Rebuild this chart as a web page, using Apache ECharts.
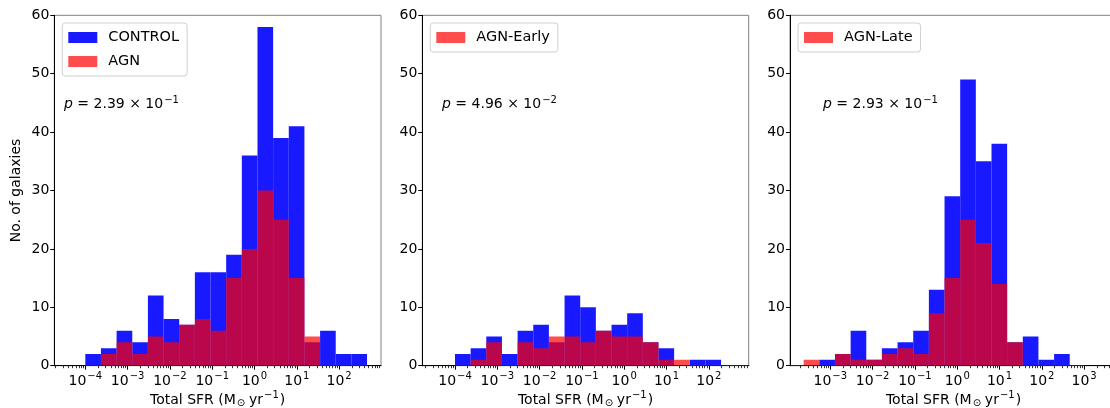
<!DOCTYPE html>
<html>
<head>
<meta charset="utf-8">
<script src="https://cdn.jsdelivr.net/npm/echarts@6/dist/echarts.min.js"></script>
<style>
  html, body { margin: 0; padding: 0; background: #fff; }
  #chart { width: 1110px; height: 408px; }
</style>
</head>
<body>
<div id="chart"></div>
<script>
// log10 of the shared histogram bin edges, Total SFR in Msun/yr
const binEdgesLog = [-4.00, -3.63, -3.26, -2.89, -2.52, -2.15, -1.78, -1.41, -1.04, -0.67,
                     -0.30, 0.07, 0.44, 0.81, 1.18, 1.55, 1.92, 2.29, 2.66, 3.03];

// galaxy counts per bin (null: bin not part of that histogram)
const controlAll   = [2, 3, 6, 4, 12, 8, 7, 16, 16, 19, 36, 58, 39, 41, 4, 6, 2, 2, null];
const agnAll       = [0, 2, 4, 2, 5, 4, 7, 8, 6, 15, 20, 30, 25, 15, 5, 0, 0, 0, null];
const controlEarly = [2, 3, 5, 2, 6, 7, 4, 12, 10, 6, 7, 9, 4, 3, 0, 1, 1, null, null];
const agnEarly     = [0, 1, 4, 0, 4, 3, 5, 5, 4, 6, 5, 5, 4, 1, 1, 0, 0, 0, 0];
const controlLate  = [null, 0, 1, 2, 6, 1, 3, 4, 6, 13, 29, 49, 35, 38, 4, 5, 1, 2, null];
const agnLate      = [0, 1, 0, 2, 1, 1, 2, 3, 2, 9, 15, 25, 21, 14, 4, 0, 0, 0, 0];

// series / legend names
const controlName = 'CONTROL';
const agnNames = ['AGN', 'AGN-Early', 'AGN-Late'];

// KS-test p-values: mantissa and power of ten
const pMantissa = ['2.39', '4.96', '2.93'];
const pExponent = [-1, -2, -1];

// labelled decades on each x axis
const xDecades = [
  [-4, -3, -2, -1, 0, 1, 2],
  [-4, -3, -2, -1, 0, 1, 2],
  [-3, -2, -1, 0, 1, 2, 3]
];
const yTicks = [0, 10, 20, 30, 40, 50, 60];

const xTitle = 'Total SFR';
const yTitle = 'No. of galaxies';

// ---------------------------------------------------------------------
const CONTROL_COLOR = 'rgba(0,0,255,0.9)';
const AGN_COLOR = 'rgba(255,0,0,0.7)';
const FONT = 'DejaVu Sans';
const TICK_FS = 14;
const SUP_FS = 10;

const grids = [
  { left: 54.3, top: 15.3, width: 326.7, height: 350.4 },
  { left: 422.3, top: 15.3, width: 326.4, height: 350.4 },
  { left: 790, top: 15.3, width: 327, height: 350.4 }
];
const xRangeLog = [[-4.733, 2.99], [-4.773, 2.943], [-3.953, 3.777]];

const panels = [
  { control: controlAll, agn: agnAll },
  { control: controlEarly, agn: agnEarly },
  { control: controlLate, agn: agnLate }
];

function minus(n) { return n < 0 ? '\u2212' + (-n) : String(n); }

function binItems(counts) {
  const out = [];
  counts.forEach((c, i) => {
    if (c === null) return;
    out.push([Math.pow(10, binEdgesLog[i]), Math.pow(10, binEdgesLog[i + 1]), c]);
  });
  return out;
}

function histRenderer(color) {
  return function (params, api) {
    const n = api.value(2);
    const top = api.coord([api.value(0), n]);
    const base = api.coord([api.value(1), 0]);
    if (n === 0) {
      return {
        type: 'line',
        shape: { x1: top[0], y1: base[1], x2: base[0], y2: base[1] },
        style: { stroke: color, lineWidth: 1 }
      };
    }
    return {
      type: 'rect',
      shape: { x: top[0], y: top[1], width: base[0] - top[0], height: base[1] - top[1] },
      style: { fill: color }
    };
  };
}

function minorTicks(lo, hi) {
  const vals = [];
  for (let d = Math.floor(lo) - 1; d <= Math.ceil(hi); d++) {
    for (let k = 2; k <= 9; k++) {
      const v = k * Math.pow(10, d);
      const lv = Math.log10(v);
      if (lv > lo && lv < hi) vals.push(v);
    }
  }
  return vals;
}

const supRich = {
  b: { fontFamily: FONT, fontSize: TICK_FS, color: '#000' },
  s: { fontFamily: FONT, fontSize: SUP_FS, color: '#000', padding: [0, 0, 10, 1] }
};

const option = {
  animation: false,
  backgroundColor: '#fff',
  grid: grids.map(g => Object.assign({
    show: true, borderColor: '#808080', borderWidth: 1, backgroundColor: 'transparent',
    containLabel: false, outerBoundsMode: 'none'
  }, g)),
  xAxis: [],
  yAxis: [],
  series: [],
  legend: [],
  graphic: []
};

panels.forEach((p, gi) => {
  const lo = xRangeLog[gi][0], hi = xRangeLog[gi][1];
  const majors = xDecades[gi].map(e => Math.pow(10, e));
  // main x axis: spine, major ticks, labels
  option.xAxis.push({
    type: 'log', logBase: 10, gridIndex: gi, position: 'bottom',
    min: Math.pow(10, lo), max: Math.pow(10, hi),
    axisLine: { show: true, lineStyle: { color: '#000', width: 1 } },
    axisTick: { show: true, customValues: majors, length: 4, lineStyle: { color: '#000', width: 1 } },
    axisLabel: {
      show: true, customValues: majors, margin: 6,
      formatter: v => '{b|10}{s|' + minus(Math.round(Math.log10(v))) + '}',
      rich: supRich
    },
    splitLine: { show: false },
    name: xTitle + ' (M{sub|\u2299}\u2009yr{sup|\u22121})',
    nameLocation: 'middle', nameGap: 25, nameMoveOverlap: false,
    nameTextStyle: {
      fontFamily: FONT, fontSize: 14, color: '#000',
      rich: {
        sub: { fontFamily: FONT, fontSize: 10, color: '#000', padding: [6, 1, 0, 1] },
        sup: { fontFamily: FONT, fontSize: 10, color: '#000', padding: [0, 1, 9, 1] }
      }
    }
  });
  // companion axis that only carries the minor ticks, moved onto the bottom spine
  option.xAxis.push({
    type: 'log', logBase: 10, gridIndex: gi, position: 'top', offset: -grids[gi].height,
    min: Math.pow(10, lo), max: Math.pow(10, hi),
    axisLine: { show: false },
    axisTick: { show: true, inside: true, customValues: minorTicks(lo, hi), length: 2.5, lineStyle: { color: '#000', width: 0.8 } },
    axisLabel: { show: false },
    splitLine: { show: false }
  });
  option.yAxis.push({
    type: 'value', gridIndex: gi, min: 0, max: 60, interval: 10,
    axisLine: { show: true, lineStyle: { color: '#000', width: 1 } },
    axisTick: { show: true, length: 4, lineStyle: { color: '#000', width: 1 } },
    axisLabel: { fontFamily: FONT, fontSize: TICK_FS, color: '#000', margin: 5 },
    splitLine: { show: false },
    name: gi === 0 ? yTitle : '',
    nameLocation: 'middle', nameGap: 31, nameMoveOverlap: false,
    nameTextStyle: { fontFamily: FONT, fontSize: 14, color: '#000' }
  });

  option.series.push({
    type: 'custom', name: controlName, xAxisIndex: gi * 2, yAxisIndex: gi,
    clip: true, itemStyle: { color: CONTROL_COLOR },
    encode: { x: [0, 1], y: 2 },
    data: binItems(p.control), renderItem: histRenderer(CONTROL_COLOR), z: 2
  });
  option.series.push({
    type: 'custom', name: agnNames[gi], xAxisIndex: gi * 2, yAxisIndex: gi,
    clip: true, itemStyle: { color: AGN_COLOR },
    encode: { x: [0, 1], y: 2 },
    data: binItems(p.agn), renderItem: histRenderer(AGN_COLOR), z: 3
  });

  option.legend.push({
    data: gi === 0 ? [controlName, agnNames[0]] : [agnNames[gi]],
    orient: 'vertical', left: grids[gi].left + 8, top: 23,
    icon: 'rect', itemWidth: 29, itemHeight: 11, itemGap: 9,
    backgroundColor: 'rgba(255,255,255,0.8)', borderColor: '#d0d0d0', borderWidth: 1, borderRadius: 3,
    padding: [7, 8, 7, 6],
    selectedMode: false,
    textStyle: { fontFamily: FONT, fontSize: 14.5, color: '#000', padding: [0, 0, 0, 6] }
  });

  option.graphic.push({
    type: 'text',
    left: [64, 442, 823][gi], top: 95,
    style: {
      text: '{i|p}{n| = ' + pMantissa[gi] + ' \u00d7 10}{s|' + minus(pExponent[gi]) + '}',
      rich: {
        i: { fontFamily: FONT, fontSize: 14, fontStyle: 'italic', fill: '#000' },
        n: { fontFamily: FONT, fontSize: 14, fill: '#000' },
        s: { fontFamily: FONT, fontSize: 10, fill: '#000', padding: [0, 0, 9, 1] }
      }
    }
  });
});

const chart = echarts.init(document.getElementById('chart'), null, { renderer: 'canvas' });
chart.setOption(option);
</script>
</body>
</html>
